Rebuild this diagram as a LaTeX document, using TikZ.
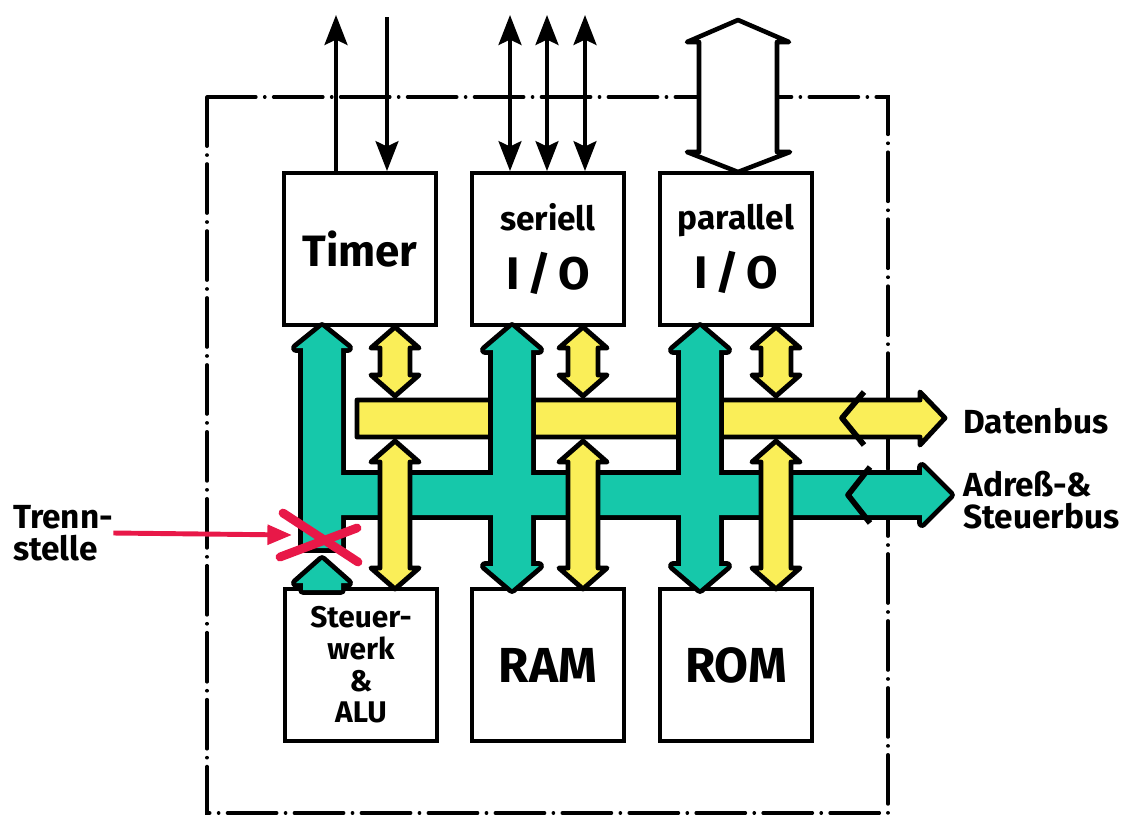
\documentclass[tikz,border=0pt]{standalone}
\usepackage{fontspec}
\setmainfont{Fira Sans}
\usetikzlibrary{arrows.meta}

\definecolor{busgreen}{RGB}{22,200,170}
\definecolor{busyellow}{RGB}{250,238,88}
\definecolor{cutred}{RGB}{232,24,72}

% vertical bus with a head at both ends: style, x, top tip, bottom tip, half body, half head, head length
\newcommand{\vbus}[7]{%
  \path[#1] (#2,#3) -- ({#2+#6},{#3+#7}) -- ({#2+#5},{#3+#7}) -- ({#2+#5},{#4-#7})
    -- ({#2+#6},{#4-#7}) -- (#2,#4) -- ({#2-#6},{#4-#7}) -- ({#2-#5},{#4-#7})
    -- ({#2-#5},{#3+#7}) -- ({#2-#6},{#3+#7}) -- cycle;}

% address and control bus, drawn twice so the crossings merge
\newcommand{\greenbus}[1]{%
  \vbus{#1}{512}{327}{589}{19}{27}{23}
  \vbus{#1}{700}{327}{589}{19}{27}{23}
  \path[#1] (322,327) -- (348,348) -- (341,348) -- (341,475) -- (922,475) -- (922,467)
    -- (950,495) -- (922,523) -- (922,515) -- (341,515) -- (341,548) -- (303,548)
    -- (303,348) -- (296,348) -- cycle;
  \path[#1] (322,560) -- (348,583) -- (341,583) -- (341,590) -- (303,590) -- (303,583)
    -- (296,583) -- cycle;}

\tikzset{
  box/.style={draw, line width=2.2pt, fill=white, minimum width=30.4mm,
    minimum height=30.4mm, inner sep=0pt, align=center, font=\bfseries},
  lbl/.style={inner sep=0pt, font=\fontsize{19}{18}\selectfont\bfseries},
  frame/.style={line width=2pt, line cap=round,
    dash pattern=on 28pt off 5pt on 0.1pt off 5pt},
  sig/.style={line width=2.2pt},
  ybus/.style={draw, line width=2.8pt, fill=busyellow, line join=round},
  chev/.style={line width=3.2pt, line join=round},
  cut/.style={cutred, line width=5pt, line cap=round},
}

\begin{document}
\begin{tikzpicture}[x=0.2mm,y=-0.2mm,>={Stealth[length=17pt,width=13pt,inset=3pt]}]
\useasboundingbox (0,0) rectangle (1129,819);

% module border
\draw[frame] (207,97) rectangle (888,813);

% units
\node[box, font=\fontsize{25}{30}\selectfont\bfseries] (timer) at (360,249) {Timer};
\node[box, font=\fontsize{26}{34}\selectfont\bfseries] (seriell) at (548,249)
  {{\fontsize{19}{34}\selectfont seriell}\\I\thinspace/\thinspace O};
\node[box, font=\fontsize{26}{34}\selectfont\bfseries] (parallel) at (736,249)
  {{\fontsize{19}{34}\selectfont parallel}\\I\thinspace/\thinspace O};
\node[box, font=\fontsize{17}{18}\selectfont\bfseries] (steuer) at (361,665)
  {Steuer-\\werk\\\&\\ALU};
\node[box, font=\fontsize{28}{30}\selectfont\bfseries] (ram) at (548,665) {RAM};
\node[box, font=\fontsize{28}{30}\selectfont\bfseries] (rom) at (736,665) {ROM};

% lines to the outside
\coordinate (tout) at (336,15);
\coordinate (tin) at (387,17);
\coordinate (sa) at (510,15);
\coordinate (sb) at (547,15);
\coordinate (sc) at (585,15);
\draw[sig,->] (timer.north -| tout) -- (tout);
\draw[sig,->] (tin) -- (timer.north -| tin);
\draw[sig,<->] (seriell.north -| sa) -- (sa);
\draw[sig,<->] (seriell.north -| sb) -- (sb);
\draw[sig,<->] (seriell.north -| sc) -- (sc);
\draw[line width=2.6pt, fill=white, line join=round] (738,20) -- (789,42) -- (777,42)
  -- (777,152) -- (790,152) -- (738,172) -- (687,152) -- (699,152) -- (699,42)
  -- (687,42) -- cycle;

% data bus
\path[ybus] (357,400) -- (920,400) -- (920,392) -- (945,418) -- (920,445) -- (920,437)
  -- (357,437) -- cycle;
\draw[chev] (864,392) -- (842,418) -- (864,445);

% address and control bus
\greenbus{draw, line width=5.6pt, fill=busgreen, line join=round}
\greenbus{fill=busgreen}
\draw[chev] (870,467) -- (848,495) -- (870,523);

% data bus branches
\vbus{ybus}{395}{327}{396}{15}{24}{21}
\vbus{ybus}{583}{327}{396}{15}{24}{21}
\vbus{ybus}{776}{327}{396}{15}{24}{21}
\vbus{ybus}{395}{441}{589}{15}{24}{21}
\vbus{ybus}{583}{441}{589}{15}{24}{21}
\vbus{ybus}{776}{441}{589}{15}{24}{21}

% separation point
\draw[cut] (283,513) -- (358,562);
\draw[cut] (280,557) -- (357,528);
\node[lbl, align=left] (trenn) at (63,533) {Trenn-\\stelle};
\coordinate (cutpt) at (292,535);
\draw[cutred, line width=2.8pt, -{Triangle[length=14pt,width=11pt]}] (trenn.east) -- (cutpt);

% bus names
\node[lbl, anchor=west] (daten) at (963,421) {Datenbus};
\node[lbl, anchor=west, align=left] (adress) at (963,500) {Adreß-\&\\Steuerbus};
\end{tikzpicture}
\end{document}
